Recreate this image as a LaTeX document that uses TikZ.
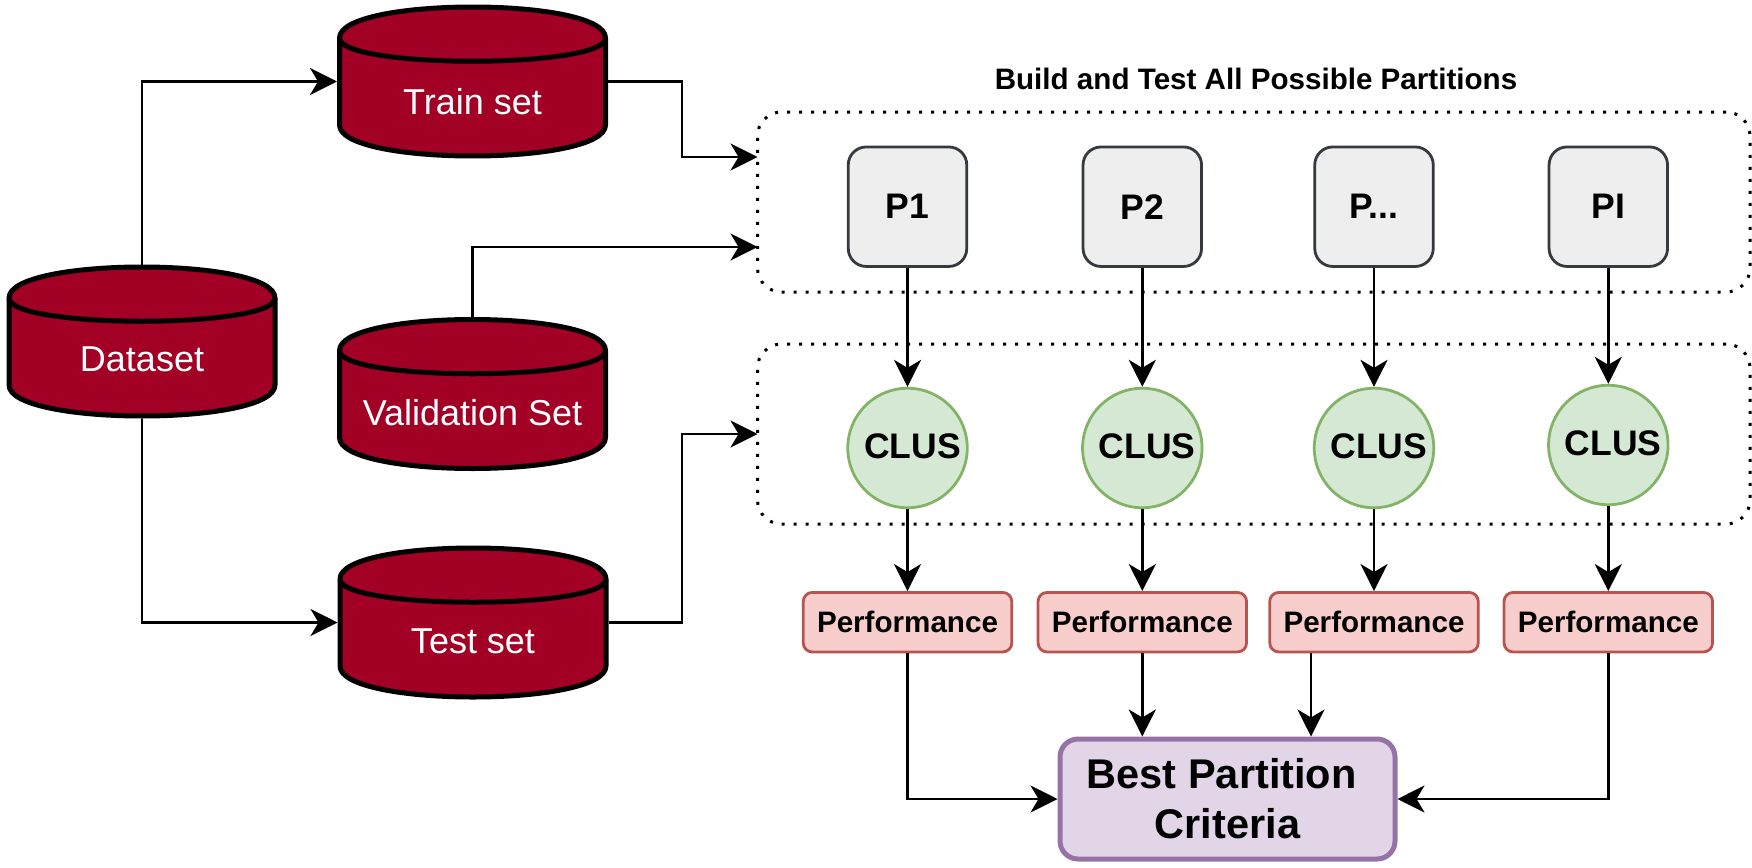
\documentclass[tikz,border=0pt]{standalone}
\usepackage{fontspec}
\setmainfont{Liberation Sans}
\usetikzlibrary{arrows.meta,calc}

\definecolor{cylred}{HTML}{A20025}
\definecolor{boxgray}{HTML}{EEEEEE}
\definecolor{linegray}{HTML}{36393D}
\definecolor{clusgreen}{HTML}{D5E8D4}
\definecolor{linegreen}{HTML}{82B366}
\definecolor{perfpink}{HTML}{F8CECC}
\definecolor{linepink}{HTML}{B85450}
\definecolor{bestpurple}{HTML}{E1D5E7}
\definecolor{linepurple}{HTML}{9673A6}

\tikzset{
  flow/.style={line width=2.8pt, -{Stealth[length=27pt,width=27pt,inset=8pt]}},
  cyl/.style={rectangle, outer sep=0pt, inner sep=0pt, minimum width=271pt, minimum height=154pt,
    text=white, font=\fontsize{36}{43}\selectfont, text height=#1, text depth=0pt,
    path picture={
      \coordinate (mid) at (path picture bounding box.center);
      \draw[fill=cylred, line width=5pt, line join=round]
        ([xshift=-133pt,yshift=43.5pt]mid) .. controls ([xshift=-133pt,yshift=84.83pt]mid) and ([xshift=133pt,yshift=84.83pt]mid) .. ([xshift=133pt,yshift=43.5pt]mid)
        -- ([xshift=133pt,yshift=-43.5pt]mid) .. controls ([xshift=133pt,yshift=-84.83pt]mid) and ([xshift=-133pt,yshift=-84.83pt]mid) .. ([xshift=-133pt,yshift=-43.5pt]mid) -- cycle;
      \draw[line width=5pt]
        ([xshift=-133pt,yshift=43.5pt]mid) .. controls ([xshift=-133pt,yshift=12.5pt]mid) and ([xshift=133pt,yshift=12.5pt]mid) .. ([xshift=133pt,yshift=43.5pt]mid);
    }},
  dotbox/.style={draw, rectangle, rounded corners=24pt, outer sep=0pt, line width=3pt,
    dash pattern=on 3pt off 9pt, minimum width=992.5pt, minimum height=180pt},
  partbox/.style={draw=linegray, fill=boxgray, rectangle, rounded corners=18pt, line width=2.8pt,
    minimum width=118.5pt, minimum height=119.5pt, font=\fontsize{35.5}{42}\bfseries\selectfont},
  clus/.style={draw=linegreen, fill=clusgreen, circle, line width=2.8pt, inner sep=0pt,
    minimum size=119.5pt, text depth=4pt, font=\fontsize{35.5}{42}\bfseries\selectfont},
  perf/.style={draw=linepink, fill=perfpink, rectangle, rounded corners=9pt, line width=2.8pt,
    minimum width=208.5pt, minimum height=59.5pt, font=\fontsize{29.6}{35}\bfseries\selectfont}
}

\begin{document}
\begin{tikzpicture}[x=1pt, y=-1pt]
  \useasboundingbox (0,0) rectangle (1752,867);

  % Cylinders
  \node[cyl=59pt] (dataset) at (142,341.5) {Dataset~};
  \node[cyl=65pt] (trainset) at (472.5,81.5) {Train set};
  \node[cyl=62pt] (valset) at (472.5,394) {Validation Set~};
  \node[cyl=61pt] (testset) at (473,622.5) {Test set~};

  % Dotted groups
  \node[dotbox] (partgroup) at (1253.75,202) {};
  \node[dotbox] (clusgroup) at (1253.75,434) {};
  \node[font=\fontsize{29.6}{35}\bfseries\selectfont] (title) at (1256,79) {Build and Test All Possible Partitions};

  % Partitions
  \node[partbox] (pa) at (907.5,206.7) {P1};
  \node[partbox] (pb) at (1142.3,206.7) {P2};
  \node[partbox] (pc) at (1374,206.7) {P...};
  \node[partbox] (pd) at (1608.3,206.7) {PI};

  % Clus
  \node[clus] (clusa) at (907.5,448) {~CLUS};
  \node[clus] (clusb) at (1142.3,448) {~CLUS};
  \node[clus] (clusc) at (1374,448) {~CLUS};
  \node[clus] (clusd) at (1608.3,445) {~CLUS};

  % Performance
  \node[perf] (perfa) at (907.5,622.2) {Performance};
  \node[perf] (perfb) at (1142.3,622.2) {Performance};
  \node[perf] (perfc) at (1374,622.2) {Performance};
  \node[perf] (perfd) at (1608.3,622.2) {Performance};

  % Best partition
  \node[draw=linepurple, fill=bestpurple, rectangle, rounded corners=18pt, line width=5pt,
    minimum width=335pt, minimum height=120pt, align=center,
    font=\fontsize{41.5}{49.8}\bfseries\selectfont] (best) at (1227.5,799) {Best Partition\hspace*{11.5pt}\\Criteria};

  % Dataset split
  \draw[flow] (dataset.north) |- (trainset.west);
  \draw[flow] (dataset.south) |- (testset.west);

  % Into the groups
  \draw[flow] (trainset.east) -- (682,81.5) |- ($(partgroup.west)+(0,-45)$);
  \draw[flow] (valset.north) |- ($(partgroup.west)+(0,45)$);
  \draw[flow] (testset.east) -- (682,622.5) |- (clusgroup.west);

  % Columns
  \draw[flow] (pa) -- (clusa);
  \draw[flow] (pb) -- (clusb);
  \draw[flow] (pc) -- (clusc);
  \draw[flow] (pd) -- (clusd);
  \draw[flow] (clusa) -- (perfa);
  \draw[flow] (clusb) -- (perfb);
  \draw[flow] (clusc) -- (perfc);
  \draw[flow] (clusd) -- (perfd);

  % Down to best
  \draw[flow] (perfa.south) |- (best.west);
  \draw[flow] (perfb.south) -- (perfb.south |- best.north);
  \draw[flow] ($(perfc.south)+(-63,0)$) -- ($(perfc.south |- best.north)+(-63,0)$);
  \draw[flow] (perfd.south) |- (best.east);
\end{tikzpicture}
\end{document}
